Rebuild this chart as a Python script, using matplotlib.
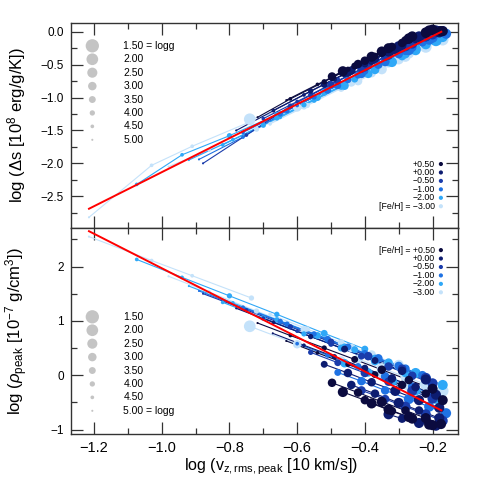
import matplotlib
matplotlib.use('Agg')
import matplotlib.pyplot as plt
from matplotlib.ticker import MultipleLocator

plt.rcParams['font.family'] = ['Liberation Sans', 'DejaVu Sans']
plt.rcParams['mathtext.fontset'] = 'custom'
plt.rcParams['mathtext.rm'] = 'Liberation Sans'
plt.rcParams['mathtext.it'] = 'Liberation Sans:italic'
plt.rcParams['mathtext.bf'] = 'Liberation Sans:bold'

# ---------------- data ----------------
feh_levels = [0.5, 0.0, -0.5, -1.0, -2.0, -3.0]
feh_labels = ['+0.50', '+0.00', '\u22120.50', '\u22121.00', '\u22122.00', '\u22123.00']
logg_levels = [1.5, 2.0, 2.5, 3.0, 3.5, 4.0, 4.5, 5.0]
logg_labels = ['1.50', '2.00', '2.50', '3.00', '3.50', '4.00', '4.50', '5.00']

seq_feh = [-3.0, -2.0, -3.0, -3.0, -2.0, -1.0, -0.5, -2.0, 0.0, -1.0,
           0.5, -0.5, -3.0, -2.0, 0.0, 0.5, -1.0, -0.5, 0.0, 0.5,
           0.5, 0.0, 0.5, -1.0, -2.0, -3.0, -0.5, 0.0]
seq_x = [
    [-1.215, -1.03, -0.91, -0.735],
    [-1.074, -0.94, -0.80, -0.66, -0.52, -0.40],
    [-0.98, -0.86, -0.72, -0.58, -0.44, -0.33],
    [-0.74, -0.60, -0.47, -0.36, -0.27],
    [-0.92, -0.79, -0.66, -0.54, -0.43, -0.33, -0.25],
    [-0.89, -0.76, -0.63, -0.51, -0.40, -0.30, -0.23],
    [-0.878, -0.75, -0.62, -0.50, -0.39, -0.29, -0.22],
    [-0.82, -0.70, -0.58, -0.47, -0.37, -0.28],
    [-0.78, -0.67, -0.56, -0.46, -0.37, -0.29, -0.22],
    [-0.76, -0.65, -0.55, -0.45, -0.36, -0.28],
    [-0.717, -0.62, -0.52, -0.43, -0.35, -0.27, -0.20],
    [-0.70, -0.60, -0.50, -0.41, -0.33, -0.26, -0.20],
    [-0.68, -0.57, -0.47, -0.38, -0.30],
    [-0.65, -0.55, -0.46, -0.37, -0.29, -0.22, -0.17],
    [-0.672, -0.58, -0.49, -0.40, -0.32, -0.25, -0.19],
    [-0.632, -0.54, -0.45, -0.37, -0.29, -0.22, -0.17],
    [-0.60, -0.51, -0.42, -0.34, -0.26, -0.20],
    [-0.56, -0.48, -0.40, -0.33, -0.26, -0.20],
    [-0.52, -0.45, -0.38, -0.31, -0.24, -0.18],
    [-0.497, -0.42, -0.35, -0.28, -0.22, -0.175],
    [-0.465, -0.40, -0.33, -0.27, -0.21],
    [-0.44, -0.37, -0.30, -0.24, -0.18],
    [-0.38, -0.32, -0.26, -0.20],
    [-0.48, -0.41, -0.34, -0.27, -0.21, -0.16],
    [-0.46, -0.39, -0.32, -0.25, -0.19],
    [-0.42, -0.35, -0.28, -0.22, -0.17],
    [-0.41, -0.34, -0.28, -0.22, -0.17],
    [-0.33, -0.29, -0.24, -0.19],
]
seq_top = [
    [-2.82, -2.03, -1.74, -1.36],
    [-2.32, -1.87, -1.58, -1.26, -0.92, -0.62],
    [-2.05, -1.80, -1.48, -1.13, -0.77, -0.48],
    [-1.33, -1.15, -0.84, -0.56, -0.33],
    [-1.95, -1.64, -1.31, -1.00, -0.72, -0.46, -0.26],
    [-1.94, -1.60, -1.20, -0.89, -0.60, -0.34, -0.16],
    [-2.00, -1.57, -1.13, -0.80, -0.51, -0.25, -0.07],
    [-1.72, -1.42, -1.11, -0.83, -0.57, -0.34],
    [-1.50, -1.20, -0.90, -0.64, -0.41, -0.21, -0.03],
    [-1.53, -1.25, -0.99, -0.73, -0.50, -0.29],
    [-1.30, -1.02, -0.76, -0.52, -0.32, -0.12, 0.03],
    [-1.32, -1.06, -0.80, -0.57, -0.36, -0.18, -0.03],
    [-1.40, -1.12, -0.86, -0.63, -0.42],
    [-1.30, -1.04, -0.81, -0.58, -0.37, -0.19, -0.08],
    [-1.20, -0.96, -0.72, -0.49, -0.29, -0.11, 0.02],
    [-1.04, -0.80, -0.57, -0.37, -0.17, -0.03, 0.01],
    [-1.12, -0.89, -0.66, -0.45, -0.24, -0.09],
    [-0.96, -0.75, -0.54, -0.36, -0.18, -0.04],
    [-0.80, -0.62, -0.44, -0.26, -0.09, 0.01],
    [-0.68, -0.49, -0.30, -0.13, -0.01, 0.01],
    [-0.60, -0.44, -0.25, -0.10, 0.02],
    [-0.59, -0.41, -0.22, -0.07, -0.01],
    [-0.38, -0.23, -0.07, 0.03],
    [-0.82, -0.64, -0.46, -0.28, -0.12, -0.03],
    [-0.82, -0.64, -0.46, -0.28, -0.13],
    [-0.75, -0.57, -0.38, -0.23, -0.12],
    [-0.56, -0.38, -0.22, -0.07, 0.01],
    [-0.30, -0.20, -0.07, 0.01],
]
seq_bot = [
    [2.55, 2.11, 1.83, 1.42],
    [2.13, 1.80, 1.46, 1.12, 0.77, 0.48],
    [1.82, 1.53, 1.18, 0.84, 0.50, 0.23],
    [0.90, 0.57, 0.27, 0.01, -0.20],
    [1.64, 1.33, 1.02, 0.73, 0.47, 0.23, 0.04],
    [1.55, 1.24, 0.94, 0.66, 0.40, 0.17, 0.00],
    [1.50, 1.20, 0.89, 0.61, 0.35, 0.12, -0.05],
    [1.34, 1.05, 0.76, 0.50, 0.26, 0.04],
    [1.23, 0.97, 0.71, 0.48, 0.27, 0.08, -0.08],
    [1.25, 0.99, 0.76, 0.52, 0.31, 0.12],
    [0.96, 0.73, 0.50, 0.29, 0.10, -0.09, -0.25],
    [1.05, 0.81, 0.57, 0.35, 0.16, -0.01, -0.15],
    [1.12, 0.85, 0.60, 0.38, 0.19],
    [0.98, 0.74, 0.52, 0.30, 0.11, -0.06, -0.18],
    [0.77, 0.55, 0.34, 0.13, -0.06, -0.22, -0.36],
    [0.63, 0.41, 0.20, 0.01, -0.18, -0.34, -0.46],
    [0.58, 0.37, 0.16, -0.02, -0.21, -0.35],
    [0.42, 0.23, 0.04, -0.12, -0.29, -0.43],
    [0.20, 0.04, -0.13, -0.29, -0.46, -0.60],
    [-0.14, -0.32, -0.49, -0.65, -0.79, -0.90],
    [-0.31, -0.46, -0.63, -0.77, -0.91],
    [-0.18, -0.34, -0.51, -0.65, -0.79],
    [-0.52, -0.66, -0.80, -0.92],
    [0.05, -0.11, -0.28, -0.44, -0.58, -0.70],
    [0.22, 0.05, -0.11, -0.28, -0.42],
    [0.30, 0.13, -0.03, -0.17, -0.29],
    [-0.28, -0.44, -0.58, -0.72, -0.84],
    [-0.72, -0.80, -0.88, -0.93],
]
seq_logg = [
    [5.0, 4.5, 4.5, 4.0],
    [4.5, 4.5, 4.0, 4.0, 3.5, 3.5],
    [5.0, 4.5, 4.0, 3.5, 3.0, 3.0],
    [2.0, 3.0, 3.0, 3.0, 2.5],
    [5.0, 4.5, 4.0, 3.5, 3.5, 3.0, 2.5],
    [5.0, 4.5, 4.0, 3.5, 3.5, 3.0, 3.0],
    [5.0, 4.5, 4.0, 3.5, 3.0, 3.0, 2.5],
    [4.5, 4.0, 4.0, 3.5, 3.0, 3.0],
    [5.0, 4.5, 4.0, 3.5, 3.5, 3.0, 2.5],
    [4.5, 4.0, 4.0, 3.5, 3.0, 3.0],
    [5.0, 4.5, 4.0, 3.5, 3.0, 3.0, 2.5],
    [4.5, 4.5, 4.0, 3.5, 3.0, 3.0, 2.5],
    [4.5, 4.0, 3.5, 3.0, 2.5],
    [4.5, 4.0, 3.5, 3.0, 3.0, 2.5, 2.5],
    [5.0, 4.5, 4.0, 3.5, 3.0, 3.0, 2.5],
    [5.0, 4.5, 4.0, 3.5, 3.0, 3.0, 2.5],
    [4.5, 4.0, 3.5, 3.0, 3.0, 2.5],
    [4.0, 3.5, 3.0, 3.0, 2.5, 2.5],
    [3.5, 3.0, 3.0, 2.5, 2.5, 2.5],
    [3.0, 3.0, 2.5, 3.0, 2.5, 2.5],
    [2.5, 3.0, 2.5, 2.5, 2.5],
    [3.0, 3.0, 2.5, 3.0, 2.5],
    [2.5, 3.0, 2.5, 2.5],
    [3.5, 3.0, 3.0, 2.5, 2.5, 2.5],
    [3.0, 3.0, 2.5, 2.5, 2.0],
    [3.0, 2.5, 2.5, 2.0, 2.0],
    [3.0, 3.0, 2.5, 2.5, 2.5],
    [2.5, 3.0, 2.5, 2.5],
]
fit_x = [-1.215, -0.174]
fit_top = [-2.69, 0.0]
fit_bot = [2.65, -0.648]

# ---------------- style ----------------
feh_colors = {0.5: '#0b0b3f', 0.0: '#0d1c70', -0.5: '#1a3cab',
              -1.0: '#1f72e3', -2.0: '#2fa8f7', -3.0: '#c4e2fa'}
legend_grey = '#c4c4c4'
axis_col = '#333333'


def msize(g):
    d = 13.3 - 3.2 * (g - 1.5)   # diameter in pixels
    return (d * 0.72) ** 2


fig = plt.figure(figsize=(4.8, 4.8), dpi=100)
ax1 = fig.add_axes([0.148, 0.524, 0.806, 0.429])
ax2 = fig.add_axes([0.148, 0.095, 0.806, 0.429])

order = sorted(range(len(seq_feh)), key=lambda i: seq_feh[i])
for ax, ys in ((ax1, seq_top), (ax2, seq_bot)):
    for i in order:
        c = feh_colors[seq_feh[i]]
        ax.plot(seq_x[i], ys[i], color=c, lw=0.8, zorder=2)
        ax.scatter(seq_x[i], ys[i], s=[msize(g) for g in seq_logg[i]],
                   color=c, edgecolors='none', zorder=3)

ax1.plot(fit_x, fit_top, color='#ff0000', lw=1.4, zorder=5)
ax2.plot(fit_x, fit_bot, color='#ff0000', lw=1.4, zorder=5)

ax1.set_xlim(-1.268, -0.125)
ax2.set_xlim(-1.268, -0.125)
ax1.set_ylim(-2.99, 0.14)
ax2.set_ylim(-1.09, 2.70)

for ax in (ax1, ax2):
    ax.xaxis.set_major_locator(MultipleLocator(0.2))
    ax.xaxis.set_minor_locator(MultipleLocator(0.1))
    ax.tick_params(which='both', direction='in', top=True, right=True,
                   color=axis_col, width=0.9)
    ax.tick_params(which='major', length=8.5)
    ax.tick_params(which='minor', length=4.5)
    ax.tick_params(axis='y', labelsize=8.5, pad=5)
    ax.tick_params(axis='x', labelsize=10.5, pad=5)
    for sp in ax.spines.values():
        sp.set_color(axis_col)
        sp.set_linewidth(1.0)
ax1.yaxis.set_major_locator(MultipleLocator(0.5))
ax1.yaxis.set_minor_locator(MultipleLocator(0.25))
ax2.yaxis.set_major_locator(MultipleLocator(1))
ax2.yaxis.set_minor_locator(MultipleLocator(0.5))
ax1.tick_params(axis='x', labelbottom=False)

# logg legends
for ax, y0, lab_last in ((ax1, 0.887, False), (ax2, 0.571, True)):
    for k, g in enumerate(logg_levels):
        yy = y0 - 0.0652 * k
        ax.scatter([0.055], [yy], s=msize(g), color=legend_grey,
                   edgecolors='none', transform=ax.transAxes, zorder=4)
        txt = logg_labels[k]
        if (not lab_last and k == 0) or (lab_last and k == len(logg_levels) - 1):
            txt = txt + ' = logg'
        ax.text(0.135, yy, txt, transform=ax.transAxes, fontsize=7.5,
                va='center', ha='left', color='black')

# [Fe/H] legends
for ax, y0, first in ((ax1, 0.313, False), (ax2, 0.895, True)):
    for k, f in enumerate(feh_levels):
        yy = y0 - 0.0410 * k
        ax.scatter([0.956], [yy], s=9, color=feh_colors[f],
                   edgecolors='none', transform=ax.transAxes, zorder=4)
        txt = feh_labels[k]
        if (first and k == 0) or (not first and k == len(feh_levels) - 1):
            txt = '[Fe/H] = ' + txt
        ax.text(0.940, yy, txt, transform=ax.transAxes, fontsize=6.3,
                va='center', ha='right', color='black')

fig.text(17 / 480, 1 - 125.5 / 480, r'log ($\Delta$s [10$^8$ erg/g/K])',
         rotation=90, ha='center', va='center', fontsize=12)
fig.text(17 / 480, 1 - 331 / 480, r'log ($\rho_{\rm peak}$ [10$^{-7}$ g/cm$^3$])',
         rotation=90, ha='center', va='center', fontsize=12)
fig.text(271 / 480, 1 - 467 / 480, r'log (v$_{\rm z,rms,peak}$ [10 km/s])',
         ha='center', va='center', fontsize=11.5)

fig.savefig('out.png', dpi=100)
